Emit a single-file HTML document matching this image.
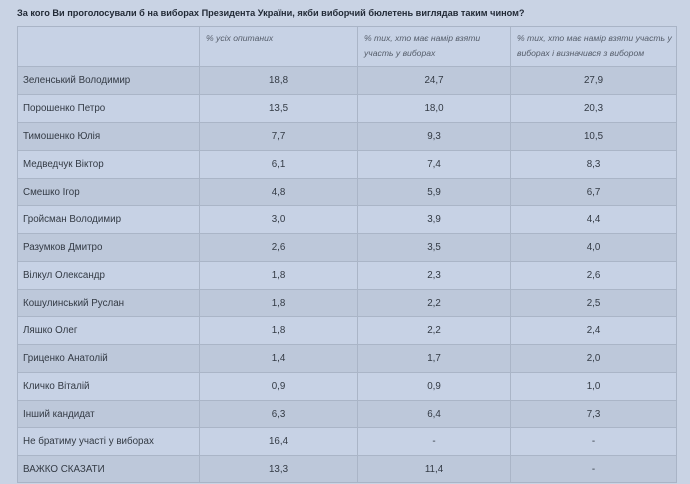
<!DOCTYPE html>
<html><head><meta charset="utf-8">
<style>
html,body{margin:0;padding:0;}
body{width:690px;height:484px;overflow:hidden;background:#c9d3e4;font-family:"Liberation Sans","DejaVu Sans",sans-serif;position:relative;}
.title{position:absolute;left:17px;top:8px;font-size:9.2px;font-weight:bold;color:#222a36;white-space:nowrap;}
.tbl{position:absolute;left:17px;top:26px;width:660px;height:457px;border:1px solid #a9b4c6;box-sizing:border-box;}
.row{position:absolute;left:0;width:658px;border-top:1px solid #aab5c7;box-sizing:border-box;}
.row.h{border-top:none;}
.row.d{background:#bdc8da;}
.row.l{background:#c7d2e5;}
.c{position:absolute;top:0;height:100%;box-sizing:border-box;display:flex;align-items:center;font-size:9.8px;color:#333a44;white-space:nowrap;}
.c1{left:0;width:181px;padding-left:5px;}
.c2{left:181px;width:158px;justify-content:center;border-left:1px solid #aab5c7;}
.c3{left:339px;width:153px;justify-content:center;border-left:1px solid #aab5c7;}
.c4{left:492px;width:166px;justify-content:center;border-left:1px solid #aab5c7;}
.hd{font-style:italic;color:#555d6a;align-items:flex-start;justify-content:flex-start;padding:4px 0 0 6px;line-height:15px;font-size:8.6px;white-space:nowrap;}
</style></head><body>
<div class="title">За кого Ви проголосували б на виборах Президента України, якби виборчий бюлетень виглядав таким чином?</div>
<div class="tbl">
<div class="row h l" style="top:0;height:39px;">
<div class="c c1"></div>
<div class="c c2 hd">% усіх опитаних</div>
<div class="c c3 hd">% тих, хто має намір взяти<br>участь у виборах</div>
<div class="c c4 hd">% тих, хто має намір взяти участь у<br>виборах і визначився з вибором</div>
</div>
<div class="row d" style="top:39px;height:28px;"><div class="c c1">Зеленський Володимир</div><div class="c c2">18,8</div><div class="c c3">24,7</div><div class="c c4">27,9</div></div>
<div class="row l" style="top:67px;height:28px;"><div class="c c1">Порошенко Петро</div><div class="c c2">13,5</div><div class="c c3">18,0</div><div class="c c4">20,3</div></div>
<div class="row d" style="top:95px;height:28px;"><div class="c c1">Тимошенко Юлія</div><div class="c c2">7,7</div><div class="c c3">9,3</div><div class="c c4">10,5</div></div>
<div class="row l" style="top:123px;height:28px;"><div class="c c1">Медведчук Віктор</div><div class="c c2">6,1</div><div class="c c3">7,4</div><div class="c c4">8,3</div></div>
<div class="row d" style="top:150.5px;height:28px;"><div class="c c1">Смешко Ігор</div><div class="c c2">4,8</div><div class="c c3">5,9</div><div class="c c4">6,7</div></div>
<div class="row l" style="top:178px;height:28px;"><div class="c c1">Гройсман Володимир</div><div class="c c2">3,0</div><div class="c c3">3,9</div><div class="c c4">4,4</div></div>
<div class="row d" style="top:206px;height:28px;"><div class="c c1">Разумков Дмитро</div><div class="c c2">2,6</div><div class="c c3">3,5</div><div class="c c4">4,0</div></div>
<div class="row l" style="top:233.5px;height:28px;"><div class="c c1">Вілкул Олександр</div><div class="c c2">1,8</div><div class="c c3">2,3</div><div class="c c4">2,6</div></div>
<div class="row d" style="top:261.5px;height:28px;"><div class="c c1">Кошулинський Руслан</div><div class="c c2">1,8</div><div class="c c3">2,2</div><div class="c c4">2,5</div></div>
<div class="row l" style="top:289px;height:28px;"><div class="c c1">Ляшко Олег</div><div class="c c2">1,8</div><div class="c c3">2,2</div><div class="c c4">2,4</div></div>
<div class="row d" style="top:317px;height:28px;"><div class="c c1">Гриценко Анатолій</div><div class="c c2">1,4</div><div class="c c3">1,7</div><div class="c c4">2,0</div></div>
<div class="row l" style="top:345px;height:28px;"><div class="c c1">Кличко Віталій</div><div class="c c2">0,9</div><div class="c c3">0,9</div><div class="c c4">1,0</div></div>
<div class="row d" style="top:372.5px;height:28px;"><div class="c c1">Інший кандидат</div><div class="c c2">6,3</div><div class="c c3">6,4</div><div class="c c4">7,3</div></div>
<div class="row l" style="top:400px;height:28px;"><div class="c c1">Не братиму участі у виборах</div><div class="c c2">16,4</div><div class="c c3">-</div><div class="c c4">-</div></div>
<div class="row d" style="top:428px;height:27px;"><div class="c c1">ВАЖКО СКАЗАТИ</div><div class="c c2">13,3</div><div class="c c3">11,4</div><div class="c c4">-</div></div>
</div>
</body></html>
